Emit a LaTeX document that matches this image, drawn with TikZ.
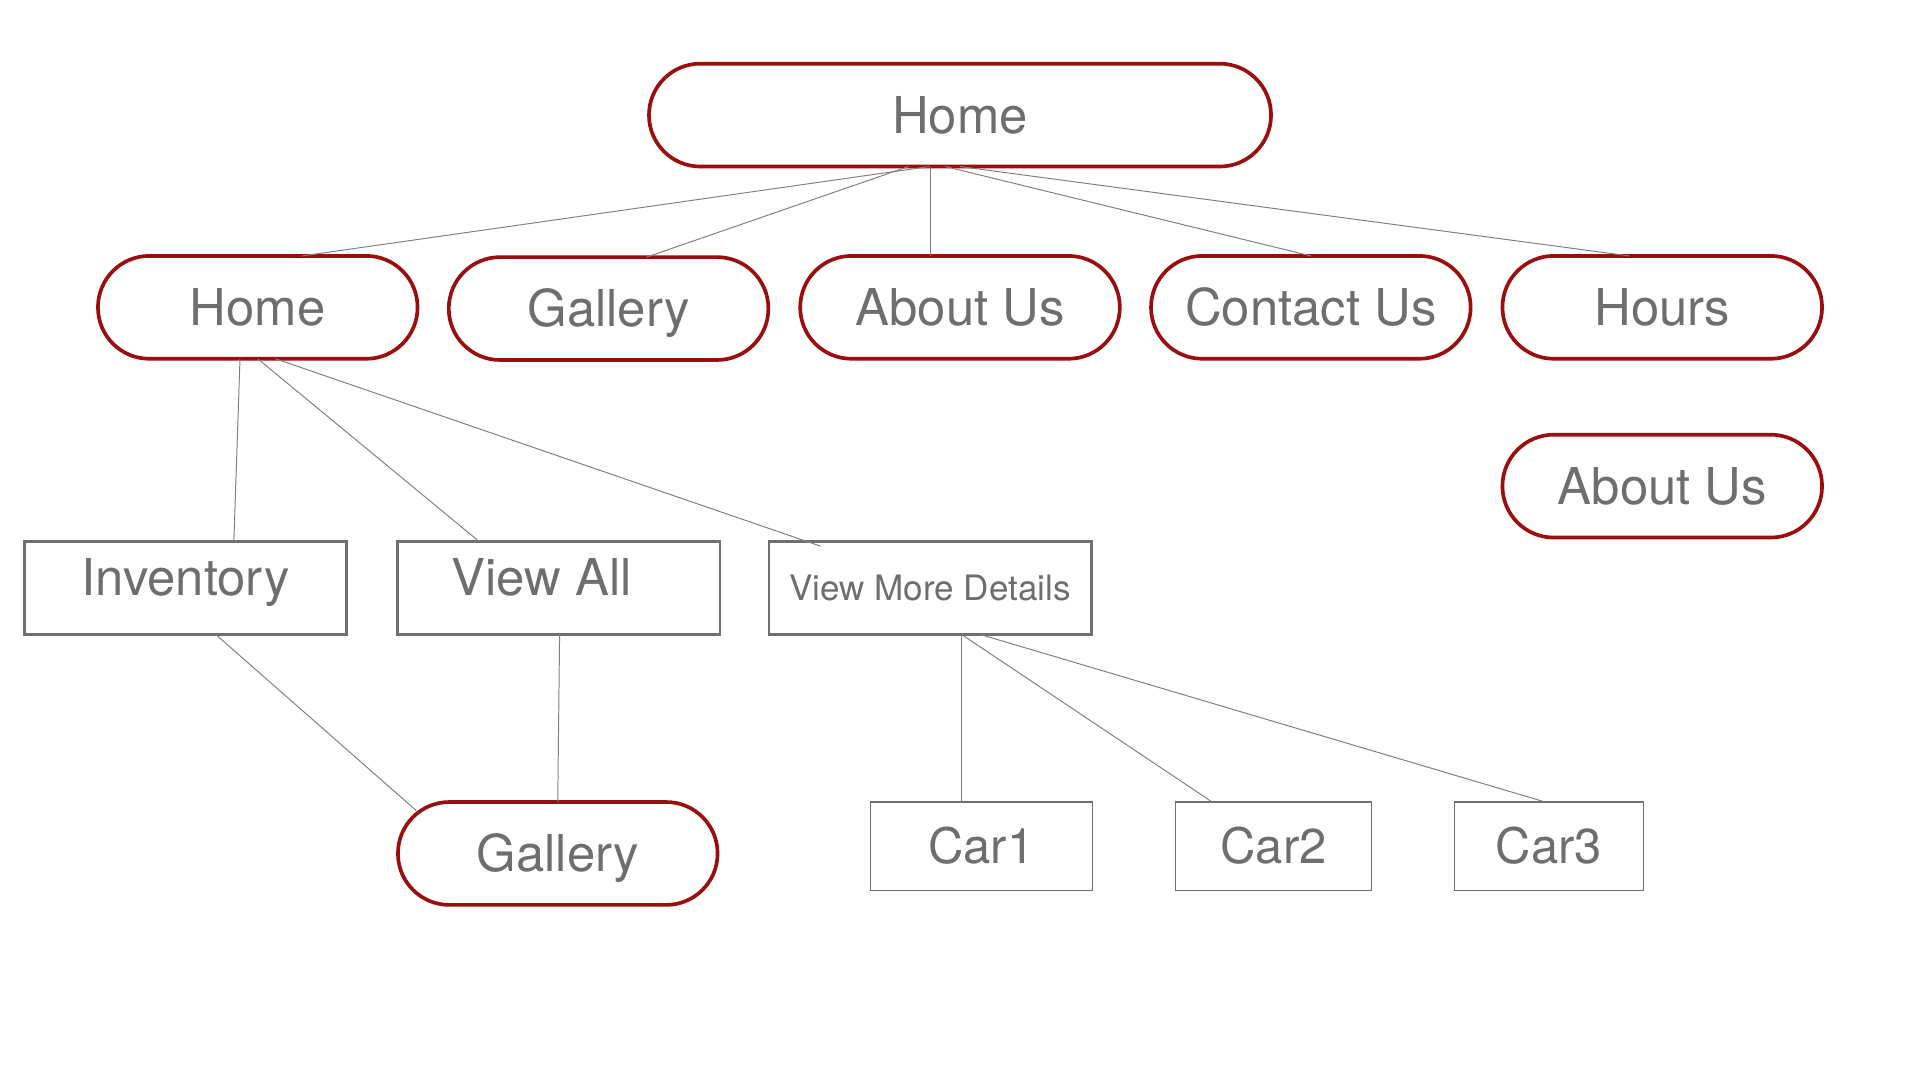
\documentclass[tikz,border=0pt]{standalone}
\usepackage{fontspec}
\setmainfont{TeX Gyre Heros}
\usetikzlibrary{calc}
\definecolor{pillred}{RGB}{155,14,14}
\definecolor{txtgray}{RGB}{110,110,110}
\definecolor{boxgray}{RGB}{112,112,112}
\definecolor{linegray}{RGB}{128,128,128}
\tikzset{
  pill/.style={draw=pillred, line width=3pt, rounded corners=41.9pt,
    minimum width=261pt, minimum height=84pt, inner sep=0pt, outer sep=0pt,
    text=txtgray, font=\fontsize{41.5}{48}\selectfont, text height=30pt, text depth=0pt},
  pagebox/.style={draw=boxgray, line width=2.4pt, minimum width=263pt, minimum height=76pt,
    inner sep=0pt, outer sep=0pt, text=txtgray, font=\fontsize{41.5}{48}\selectfont,
    text height=30pt, text depth=17pt},
  detailbox/.style={draw=boxgray, line width=2.4pt, minimum width=263pt, minimum height=76pt,
    inner sep=0pt, outer sep=0pt, text=txtgray, font=\fontsize{28.6}{34}\selectfont,
    text height=20pt, text depth=0pt},
  carbox/.style={draw=boxgray, line width=1pt, minimum height=72pt,
    inner sep=0pt, outer sep=0pt, text=txtgray, font=\fontsize{40}{46}\selectfont,
    text height=29pt, text depth=0pt},
  conn/.style={draw=linegray, line width=0.8pt}
}
\begin{document}
\begin{tikzpicture}[x=1pt,y=-1pt]
\useasboundingbox[fill=white] (0,0) rectangle (1568,882);
% top
\node[pill, minimum width=508pt] (top) at (784,94) {Home};
% row 2
\node[pill] (home2) at (210.5,251) {Home};
\node[pill] (gallery2) at (497,252) {Gallery};
\node[pill] (about2) at (784,251) {About Us};
\node[pill] (contact) at (1070.5,251) {Contact Us};
\node[pill] (hours) at (1357.5,251) {Hours};
\node[pill] (about3) at (1357.5,397) {About Us};
% row 3
\node[pagebox] (inventory) at (151.5,480) {Inventory};
\node[pagebox] (viewall) at (456.5,480) {View All\hspace*{28pt}};
\node[detailbox] (details) at (759.5,480) {View More Details};
% row 4
\node[pill] (gallery3) at (455.5,697) {Gallery};
\node[carbox, minimum width=181pt] (car1) at (801.5,691) {Car1};
\node[carbox, minimum width=160pt] (car2) at (1040,691) {Car2};
\node[carbox, minimum width=154pt] (car3) at (1265,691) {Car3};
% connectors from top
\draw[conn] ($(top.south)+(-25,0)$) -- ($(home2.north)+(36.5,0)$);
\draw[conn] ($(top.south)+(-42,0)$) -- ($(gallery2.north)+(31,0)$);
\draw[conn] ($(top.south)+(-24,0)$) -- ($(about2.north)+(-24,0)$);
\draw[conn] ($(top.south)+(-12,0)$) -- ($(contact.north)+(0,0)$);
\draw[conn] ($(top.south)+(0,0)$) -- ($(hours.north)+(-27,0)$);
% connectors from home2
\draw[conn] ($(home2.south)+(-14.5,0)$) -- ($(inventory.north)+(39.5,0)$);
\draw[conn] ($(home2.south)+(0,0)$) -- ($(viewall.north)+(-65.5,0)$);
\draw[conn] ($(home2.south)+(14.5,0)$) -- ($(details.north)+(-89.5,4)$);
% to gallery3
\draw[conn] ($(inventory.south)+(24.5,0)$) -- ($(gallery3.center)+(-115.5,-35)$);
\draw[conn] ($(viewall.south)+(0.5,0)$) -- (gallery3.north);
% to cars
\draw[conn] ($(details.south)+(25.5,0)$) -- ($(car1.north)+(-16.5,0)$);
\draw[conn] ($(details.south)+(25.5,0)$) -- ($(car2.north)+(-50,0)$);
\draw[conn] ($(details.south)+(40.5,0)$) -- ($(car3.north)+(-3,0)$);
\end{tikzpicture}
\end{document}
